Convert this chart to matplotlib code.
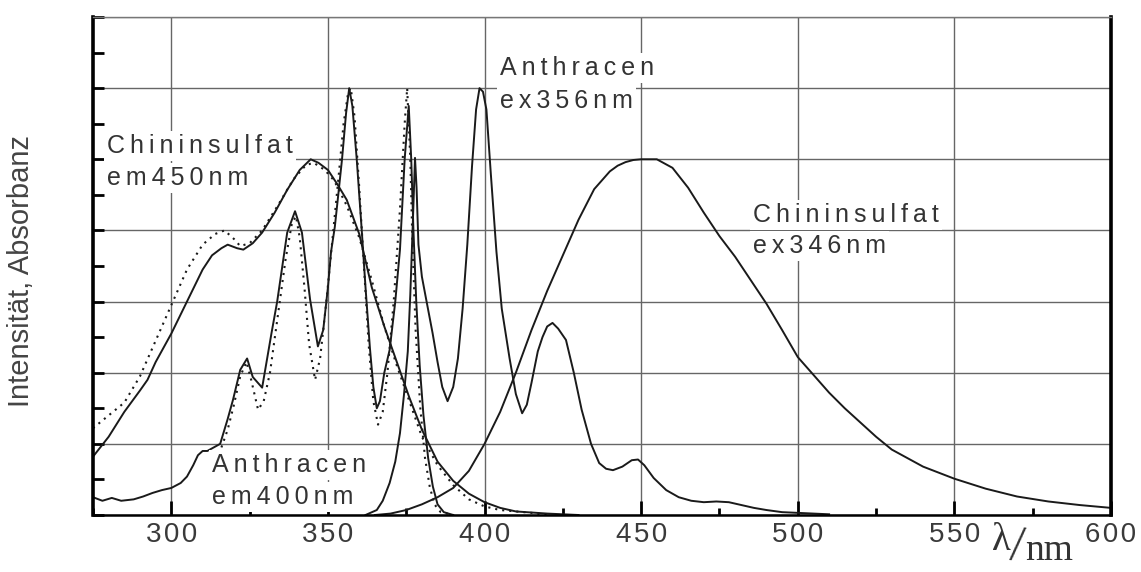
import numpy as np
import matplotlib.pyplot as plt
from matplotlib.ticker import MultipleLocator

plt.rcParams['font.family'] = ['Liberation Sans', 'DejaVu Sans']

# Chininsulfat, Anregung (em 450 nm), durchgezogen
chin_ex_x = [275, 280, 285, 290, 292.4, 295, 300, 305, 310, 313, 316, 318, 321, 323, 326, 329,
             333, 337, 341, 344.5, 347, 350, 353, 356, 360, 364, 368, 372, 376, 380, 385,
             390, 395, 400, 405, 410, 420, 430]
chin_ex_y = [0.82, 1.1, 1.45, 1.75, 1.9, 2.15, 2.55, 3.0, 3.45, 3.65, 3.75, 3.8, 3.75, 3.73, 3.82, 3.97,
             4.25, 4.57, 4.85, 5.0, 4.95, 4.85, 4.65, 4.43, 3.95, 3.2, 2.65, 2.15, 1.65, 1.2, 0.75,
             0.48, 0.3, 0.18, 0.1, 0.05, 0.02, 0.0]

# Chininsulfat, Absorbanz (gepunktet)
chin_abs_x = [275, 280, 285, 290, 295, 300, 305, 310, 314, 317, 320, 322, 325, 329, 334, 339,
              343, 345.5, 349, 352, 356, 360, 364, 368, 372, 376, 380, 385, 390, 395, 400,
              405, 410, 415, 420]
chin_abs_y = [1.22, 1.4, 1.58, 1.95, 2.45, 2.95, 3.45, 3.8, 3.95, 4.0, 3.88, 3.78, 3.82, 4.0, 4.35, 4.72,
              4.92, 4.95, 4.85, 4.7, 4.35, 3.9, 3.3, 2.65, 2.1, 1.6, 1.1, 0.7, 0.42, 0.22, 0.12,
              0.07, 0.05, 0.03, 0.0]

# Chininsulfat, Emission (ex 346 nm)
chin_em_x = [365, 370, 375, 380, 385, 390, 395, 400, 405, 410, 415, 420, 425, 430, 435, 440, 442.5,
             445, 447.5, 450, 455, 460, 465, 470, 475, 480, 485, 490, 495, 500, 505, 510, 515,
             520, 525, 530, 540, 550, 560, 570, 580, 590, 600]
chin_em_y = [0.0, 0.02, 0.07, 0.15, 0.25, 0.38, 0.62, 1.0, 1.45, 2.0, 2.6, 3.15, 3.65, 4.15, 4.58, 4.83, 4.91,
             4.96, 4.99, 5.0, 5.0, 4.88, 4.6, 4.25, 3.92, 3.63, 3.3, 2.97, 2.6, 2.22, 1.97, 1.72, 1.5,
             1.3, 1.1, 0.92, 0.68, 0.51, 0.37, 0.26, 0.19, 0.14, 0.1]

# Anthracen, Anregung (em 400 nm), durchgezogen
anth_ex_x = [275, 278, 281, 284, 288, 291, 294, 297, 300, 303, 305, 307, 308.5, 310, 311.5,
             315.6, 318, 319.7, 322, 324.2, 326, 329, 332, 333.8, 337, 339.5, 341.7, 344.3, 346.8,
             348.5, 350, 351, 352.2, 353.3, 354.5, 355.8, 356.8, 357.8, 359.2, 360.8, 362, 363.4,
             364.5, 365.6, 366.6, 368, 369.7, 371.5, 373, 374.5, 375.8, 376.6, 377.3, 378.2,
             379.3, 380.5, 382, 383.5, 385, 387, 390]
anth_ex_y = [0.25, 0.2, 0.24, 0.2, 0.22, 0.26, 0.31, 0.35, 0.38, 0.45, 0.54, 0.7, 0.84, 0.9, 0.9,
             1.0, 1.35, 1.62, 2.04, 2.2, 1.94, 1.79, 2.56, 3.0, 3.97, 4.27, 3.97, 3.03, 2.37,
             2.6, 3.2, 3.7, 4.05, 4.5, 5.0, 5.65, 6.0, 5.75, 5.0, 4.0, 3.2, 2.35,
             1.8, 1.5, 1.6, 2.0, 2.32, 3.0, 3.73, 5.0, 5.75, 5.0, 4.0, 3.0,
             2.1, 1.4, 0.8, 0.4, 0.15, 0.04, 0.0]

# Anthracen, Absorbanz (gepunktet)
anth_abs_x = [316, 318, 320, 322, 324, 325.5, 327.7, 329.5, 331.5, 334, 336.5, 338.5, 339.8, 341,
              342.5, 344, 345.9, 347.5, 349.5, 351.5, 353.5, 355, 356.5, 357.3, 358.5, 360,
              361.5, 363, 364.5, 366, 367.5, 369, 371, 373, 374.5, 375.3, 376.3, 377, 378,
              379.5, 381, 382.5, 384, 386, 390]
anth_abs_y = [0.95, 1.2, 1.55, 1.95, 2.15, 1.9, 1.48, 1.6, 2.0, 2.8, 3.6, 4.1, 4.2, 3.9,
              3.2, 2.4, 1.9, 2.2, 3.0, 3.9, 4.8, 5.5, 5.95, 6.0, 5.6, 4.6,
              3.5, 2.4, 1.6, 1.27, 1.45, 2.0, 3.0, 4.3, 5.5, 6.0, 5.0, 3.8, 2.6,
              1.5, 0.8, 0.4, 0.15, 0.04, 0.0]

# Anthracen, Emission (ex 356 nm)
anth_em_x = [362, 365.6, 367.5, 369.7, 371.5, 373, 374.3, 375.5, 376.3, 377.1, 377.8, 378.3, 378.9,
             380, 381.5, 383.4, 385, 386.5, 388.2, 390, 391.5, 393, 394.5, 396, 397.3, 398.4,
             399.5, 400.6, 402, 403.8, 405.5, 408, 410, 412, 413.5, 415, 417, 418.5, 420, 421.7,
             423.5, 426, 428.5, 431, 434, 436.6, 438.8, 441, 444, 447, 449, 451, 454, 458, 462,
             466, 470, 474, 478, 482, 486, 490, 495, 500, 510]
anth_em_y = [0.0, 0.07, 0.2, 0.45, 0.75, 1.15, 1.7, 2.3, 3.1, 4.1, 5.02, 4.6, 3.8,
             3.35, 3.0, 2.56, 2.15, 1.8, 1.6, 1.8, 2.2, 2.9, 3.8, 4.9, 5.7, 6.0,
             5.95, 5.7, 4.8, 3.7, 2.9, 2.2, 1.7, 1.43, 1.55, 1.86, 2.3, 2.5, 2.65, 2.7,
             2.62, 2.46, 2.0, 1.48, 1.0, 0.73, 0.65, 0.63, 0.68, 0.77, 0.78, 0.7, 0.52, 0.35, 0.25,
             0.2, 0.18, 0.19, 0.18, 0.14, 0.1, 0.07, 0.04, 0.03, 0.01]

x_ticks = [300, 350, 400, 450, 500, 550, 600]
x_tick_labels = ['300', '350', '400', '450', '500', '550', '600']


def spaced(s, gap='\u2009'):
    # gesperrte Schrift wie im Original
    return gap.join(s)


fig = plt.figure(figsize=(11.41, 5.72), dpi=100)
ax = fig.add_axes([93 / 1141, 1 - 515 / 572, 1018 / 1141, 498 / 572])

line_kw = dict(color='#1a1a1a', lw=1.4, zorder=2)
dot_kw = dict(color='#1a1a1a', lw=1.5, ls=(0, (1, 2.4)), zorder=2)

ax.plot(chin_ex_x, chin_ex_y, **line_kw)
ax.plot(chin_abs_x, chin_abs_y, **dot_kw)
ax.plot(chin_em_x, chin_em_y, **line_kw)
ax.plot(anth_ex_x, anth_ex_y, **line_kw)
ax.plot(anth_abs_x, anth_abs_y, **dot_kw)
ax.plot(anth_em_x, anth_em_y, **line_kw)

ax.set_xlim(275, 600)
ax.set_ylim(0, 7)

ax.set_xticks(x_ticks, labels=[spaced(t, '\u200a') for t in x_tick_labels])
ax.xaxis.set_minor_locator(MultipleLocator(25))
ax.yaxis.set_major_locator(MultipleLocator(1))
ax.yaxis.set_minor_locator(MultipleLocator(0.5))

ax.tick_params(axis='x', which='major', direction='in', length=10, width=2, pad=5,
               labelsize=20, labelcolor='#3a3a3a', color='black')
ax.tick_params(axis='x', which='minor', direction='in', length=5, width=2, color='black')
ax.tick_params(axis='y', which='both', direction='in', length=8, width=2,
               labelleft=False, color='black')

ax.set_axisbelow(True)
ax.grid(which='major', color='#666666', lw=1.0)

for side in ['left', 'right']:
    ax.spines[side].set_linewidth(2.6)
    ax.spines[side].set_color('black')
ax.spines['bottom'].set_linewidth(1.8)
ax.spines['top'].set_linewidth(1.0)
ax.spines['top'].set_color('#777777')

ax.set_ylabel('Intensität, Absorbanz', fontsize=21, color='#444444')
ax.yaxis.set_label_coords(-0.057, 0.49)

lab_kw = dict(fontsize=18, color='#333333', ha='left', va='baseline', zorder=3,
              bbox=dict(boxstyle='square,pad=0.12', fc='white', ec='none'))
labels = [(279.6, 5.09, 'Chininsulfat'), (279.6, 4.64, 'em450nm'),
          (405.0, 6.18, 'Anthracen'), (405.0, 5.72, 'ex356nm'),
          (485.8, 4.12, 'Chininsulfat'), (485.8, 3.68, 'ex346nm'),
          (313.1, 0.60, 'Anthracen'), (313.1, 0.155, 'em400nm')]
for lx, ly, txt in labels:
    ax.text(lx, ly, spaced(txt), **lab_kw)

# Achsenbeschriftung lambda/nm
serif = ['Liberation Serif', 'DejaVu Serif']
fig.text(1001 / 1141, 1 - 540 / 572, 'λ', family=serif, fontsize=28, color='#333333',
         ha='center', va='center')
fig.text(1017 / 1141, 1 - 548 / 572, '/', family=serif, fontsize=36, color='#333333',
         ha='center', va='center', rotation=-6)
fig.text(1049 / 1141, 1 - 551 / 572, 'nm', family=serif, fontsize=27, color='#333333',
         ha='center', va='center')

fig.savefig('out.png', dpi=100)
